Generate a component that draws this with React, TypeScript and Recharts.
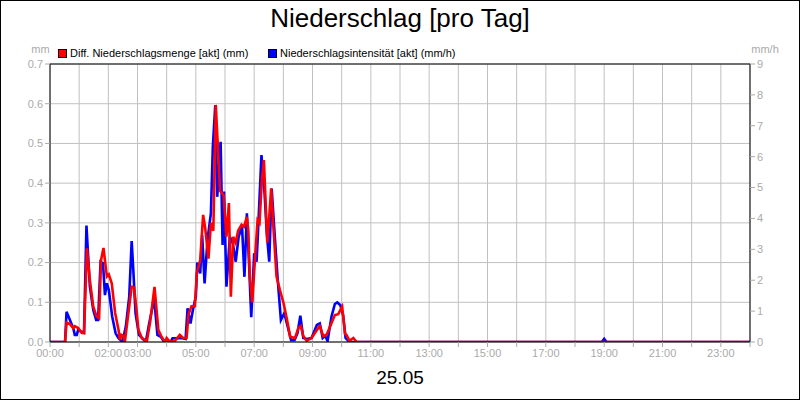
import React from 'react';
import { ComposedChart, Line, XAxis, YAxis, CartesianGrid, ReferenceLine } from 'recharts';

const FONT = '"Liberation Sans", Arial, Helvetica, sans-serif';

// time in minutes after midnight, amount in mm (left axis)
const amountTimes = [0, 31, 34, 41, 48, 51, 58, 65, 70, 76, 82, 89, 96, 101, 105, 110, 117, 121, 127, 134, 141, 144, 147, 152, 154, 161, 168, 173, 178, 182, 189, 195, 199, 206, 211, 215, 223, 230, 237, 240, 247, 257, 267, 274, 281, 285, 291, 298, 302, 309, 315, 319, 326, 331, 336, 341, 350, 357, 363, 368, 372, 377, 382, 387, 394, 399, 405, 408, 411, 416, 422, 427, 431, 436, 440, 447, 451, 455, 459, 466, 473, 480, 487, 494, 504, 511, 516, 521, 528, 538, 549, 555, 562, 569, 579, 586, 593, 601, 607, 610, 616, 624, 631, 1440];
const amountValues = [0, 0, 0.049, 0.045, 0.035, 0.04, 0.035, 0.023, 0.022, 0.236, 0.156, 0.089, 0.064, 0.06, 0.206, 0.237, 0.165, 0.17, 0.148, 0.073, 0.03, 0.005, 0.018, 0.015, 0, 0.07, 0.139, 0.137, 0.08, 0.03, 0.01, 0.005, 0, 0.05, 0.1, 0.139, 0.03, 0.012, 0, 0.01, 0, 0.003, 0.018, 0.01, 0.01, 0.07, 0.09, 0.09, 0.173, 0.206, 0.32, 0.29, 0.21, 0.3, 0.28, 0.597, 0.38, 0.37, 0.265, 0.35, 0.114, 0.265, 0.25, 0.28, 0.295, 0.29, 0.315, 0.28, 0.165, 0.1, 0.215, 0.307, 0.3, 0.41, 0.458, 0.25, 0.315, 0.387, 0.3, 0.165, 0.131, 0.1, 0.06, 0.013, 0.01, 0.035, 0.04, 0.015, 0.003, 0.01, 0.03, 0.04, 0.015, 0.018, 0.047, 0.068, 0.07, 0.089, 0.02, 0.018, 0.003, 0.01, 0, 0];

// time in minutes after midnight, intensity in mm/h (right axis)
const intensityTimes = [0, 31, 34, 41, 48, 51, 55, 58, 65, 70, 75, 82, 89, 95, 99, 104, 109, 113, 117, 121, 128, 135, 141, 145, 149, 156, 163, 168, 171, 176, 183, 190, 197, 204, 211, 214, 221, 228, 235, 248, 252, 259, 272, 279, 283, 289, 294, 300, 303, 309, 313, 318, 324, 331, 335, 340, 344, 351, 355, 358, 363, 370, 376, 382, 388, 395, 400, 405, 410, 414, 420, 425, 429, 435, 441, 446, 451, 456, 462, 468, 475, 482, 489, 496, 503, 509, 515, 521, 528, 538, 549, 555, 561, 566, 571, 579, 586, 591, 597, 603, 608, 614, 621, 1135, 1140, 1145, 1440];
const intensityValues = [0, 0, 0.98, 0.71, 0.44, 0.23, 0.23, 0.39, 0.33, 0.3, 3.77, 1.79, 1.04, 0.71, 0.71, 2.6, 2.55, 1.52, 1.9, 1.68, 0.82, 0.28, 0.12, 0.06, 0, 0.5, 1.47, 3.27, 2.44, 0.93, 0.23, 0.12, 0, 0.6, 1.14, 1.47, 0.23, 0.17, 0, 0, 0.12, 0.12, 0.12, 0.1, 1.09, 0.6, 1.04, 1.47, 2.57, 2.22, 3.46, 1.9, 3.3, 4.17, 6.32, 7.67, 4.7, 6.48, 3.14, 4.87, 1.79, 3.41, 3.2, 2.6, 3.4, 3.75, 2.11, 4.17, 2.33, 0.8, 2.87, 2.6, 3.95, 6.05, 4.92, 3.52, 2.6, 4.97, 3.52, 2.11, 0.71, 0.93, 0.5, 0.06, 0.06, 0.28, 0.85, 0.13, 0.1, 0.13, 0.55, 0.6, 0.13, 0.2, 0.03, 0.82, 1.23, 1.28, 1.2, 0.87, 0.13, 0.03, 0, 0, 0.1, 0, 0];

const hourTicks = Array.from({ length: 25 }, (_, i) => i * 60);
const labeledHours = [0, 2, 3, 5, 7, 9, 11, 13, 15, 17, 19, 21, 23];
const leftTicks = [0, 0.1, 0.2, 0.3, 0.4, 0.5, 0.6, 0.7];
const rightTicks = [0, 1, 2, 3, 4, 5, 6, 7, 8, 9];

const amountName = 'Diff. Niederschlagsmenge [akt] (mm)';
const intensityName = 'Niederschlagsintensität [akt] (mm/h)';

const amountData = amountTimes.map((t, i) => ({ t, v: amountValues[i] }));
const intensityData = intensityTimes.map((t, i) => ({ t, v: intensityValues[i] }));

const GREY = '#aaaaaa';

const fmtHour = (m: number) => {
  const h = Math.round(m / 60);
  if (!labeledHours.includes(h)) return '';
  return (h < 10 ? '0' : '') + h + ':00';
};

export default function App() {
  return (
    <div style={{ position: 'absolute', left: 0, top: 0, width: 800, height: 400, background: '#fff', fontFamily: FONT }}>
      <ComposedChart width={800} height={400} margin={{ top: 64, right: 20, bottom: 28, left: 20 }} style={{ fontFamily: FONT }}>
        <CartesianGrid yAxisId="left" stroke="#c0c0c0" strokeWidth={1} />
        <XAxis
          type="number"
          dataKey="t"
          domain={[0, 1440]}
          ticks={hourTicks}
          interval={0}
          allowDataOverflow
          tickFormatter={fmtHour}
          height={30}
          tickSize={5}
          tick={{ fill: GREY, fontSize: 11 }}
          axisLine={{ stroke: '#000' }}
          tickLine={{ stroke: GREY }}
        />
        <YAxis
          yAxisId="left"
          domain={[0, 0.7]}
          ticks={leftTicks}
          interval={0}
          allowDataOverflow
          tickFormatter={(v: number) => v.toFixed(1)}
          width={30}
          tickSize={5}
          tick={{ fill: GREY, fontSize: 11 }}
          axisLine={{ stroke: '#000' }}
          tickLine={{ stroke: GREY }}
        />
        <YAxis
          yAxisId="right"
          orientation="right"
          domain={[0, 9]}
          ticks={rightTicks}
          interval={0}
          allowDataOverflow
          width={30}
          tickSize={5}
          tick={{ fill: GREY, fontSize: 11 }}
          axisLine={{ stroke: '#000' }}
          tickLine={{ stroke: GREY }}
        />
        <ReferenceLine yAxisId="left" y={0.7} stroke="#000" strokeWidth={1} />
        <Line
          yAxisId="right"
          data={intensityData}
          dataKey="v"
          name={intensityName}
          type="linear"
          stroke="#0000ff"
          strokeWidth={2.6}
          dot={false}
          activeDot={false}
          isAnimationActive={false}
        />
        <Line
          yAxisId="left"
          data={amountData}
          dataKey="v"
          name={amountName}
          type="linear"
          stroke="#ff0000"
          strokeWidth={2.6}
          dot={false}
          activeDot={false}
          isAnimationActive={false}
        />
      </ComposedChart>
      <svg width={800} height={400} style={{ position: 'absolute', left: 0, top: 0, pointerEvents: 'none' }} fontFamily={FONT}>
        <rect x={0.5} y={0.5} width={799} height={399} fill="none" stroke="#000" strokeWidth={1} />
        <text x={400} y={27} textAnchor="middle" fontSize={26} fill="#000">Niederschlag [pro Tag]</text>
        <rect x={58.5} y={49.5} width={8} height={8} fill="#ff0000" stroke="#000" strokeWidth={1} />
        <text x={70} y={57} fontSize={11} fill="#000">{amountName}</text>
        <rect x={268.5} y={49.5} width={8} height={8} fill="#0000ff" stroke="#000" strokeWidth={1} />
        <text x={280} y={57} fontSize={11} fill="#000">{intensityName}</text>
        <text x={40.5} y={53} textAnchor="middle" fontSize={11} fill={GREY}>mm</text>
        <text x={765} y={53} textAnchor="middle" fontSize={11} fill={GREY}>mm/h</text>
        <text x={400} y={384} textAnchor="middle" fontSize={19} fill="#000">25.05</text>
      </svg>
    </div>
  );
}
